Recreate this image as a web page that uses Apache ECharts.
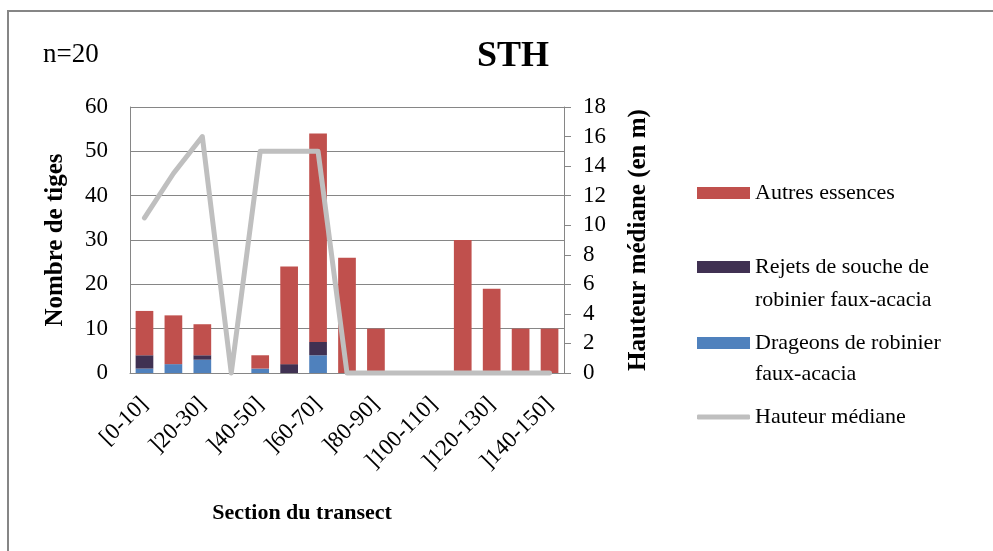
<!DOCTYPE html>
<html>
<head>
<meta charset="utf-8">
<script src="https://cdn.jsdelivr.net/npm/echarts@6/dist/echarts.min.js"></script>
<style>
html,body{margin:0;padding:0;background:#fff;}
#chart{width:993px;height:551px;}
</style>
</head>
<body>
<div id="chart"></div>
<script>
const categories = ['[0-10]', ']10-20]', ']20-30]', ']30-40]', ']40-50]', ']50-60]', ']60-70]', ']70-80]', ']80-90]', ']90-100]', ']100-110]', ']110-120]', ']120-130]', ']130-140]', ']140-150]'];
const drageons = [1, 2, 3, 0, 1, 0, 4, 0, 0, 0, 0, 0, 0, 0, 0];
const rejets   = [3, 0, 1, 0, 0, 2, 3, 0, 0, 0, 0, 0, 0, 0, 0];
const autres   = [10, 11, 7, 0, 3, 22, 47, 26, 10, 0, 0, 30, 19, 10, 10];
const hauteur  = [10.5, 13.5, 16, 0, 15, 15, 15, 0, 0, 0, 0, 0, 0, 0, 0];
const leftTicks = {min: 0, max: 60, interval: 10};
const rightTicks = {min: 0, max: 18, interval: 2};

const FONT = "'Liberation Serif', 'Times New Roman', serif";
const GREY = '#868686';
const chart = echarts.init(document.getElementById('chart'), null, {renderer: 'canvas'});

const legendText = {fontFamily: FONT, fontSize: 22, color: '#000'};

chart.setOption({
  animation: false,
  backgroundColor: '#fff',
  graphic: [{
    type: 'rect', silent: true, z: -1,
    shape: {x: 8, y: 11, width: 1000, height: 560},
    style: {fill: 'none', stroke: GREY, lineWidth: 2}
  }],
  title: [
    {text: 'STH', left: 508, top: 34, textAlign: 'center',
     textStyle: {fontFamily: FONT, fontSize: 36, fontWeight: 'bold', color: '#000'}},
    {text: 'n=20', left: 38, top: 36,
     textStyle: {fontFamily: FONT, fontSize: 27, fontWeight: 'normal', color: '#000'}}
  ],
  legend: [
    {data: ['Autres essences'], left: 697, top: 182, orient: 'vertical', padding: 0,
     icon: 'rect', itemWidth: 53, itemHeight: 12,
     textStyle: Object.assign({lineHeight: 22}, legendText)},
    {data: ['Rejets de souche de robinier faux-acacia'], left: 697, top: 217.5, orient: 'vertical', padding: 0,
     icon: 'rect', itemWidth: 53, itemHeight: 12,
     formatter: function(){ return '\nRejets de souche de\nrobinier faux-acacia'; },
     textStyle: Object.assign({lineHeight: 33}, legendText)},
    {data: ['Drageons de robinier faux-acacia'], left: 697, top: 296.5, orient: 'vertical', padding: 0,
     icon: 'rect', itemWidth: 53, itemHeight: 12,
     formatter: function(){ return '\nDrageons de robinier\nfaux-acacia'; },
     textStyle: Object.assign({lineHeight: 31}, legendText)},
    {data: ['Hauteur médiane'], left: 697, top: 406, orient: 'vertical', padding: 0,
     icon: 'roundRect', itemWidth: 53, itemHeight: 5,
     textStyle: Object.assign({lineHeight: 22}, legendText)}
  ],
  grid: {left: 130, right: 429, top: 107, bottom: 178, containLabel: false},
  xAxis: {
    type: 'category',
    data: categories,
    boundaryGap: true,
    name: 'Section du transect',
    nameLocation: 'middle',
    nameGap: 129,
    nameTextStyle: {fontFamily: FONT, fontSize: 22, fontWeight: 'bold', color: '#000', padding: [0, 90, 0, 0]},
    axisLine: {lineStyle: {color: GREY, width: 1}},
    axisTick: {show: false},
    axisLabel: {interval: 1, rotate: 45, margin: 28, fontFamily: FONT, fontSize: 23, color: '#000'},
    splitLine: {show: false}
  },
  yAxis: [
    {
      type: 'value', position: 'left',
      min: leftTicks.min, max: leftTicks.max, interval: leftTicks.interval,
      name: 'Nombre de tiges', nameLocation: 'middle', nameGap: 62, nameRotate: 90,
      nameTextStyle: {fontFamily: FONT, fontSize: 25, fontWeight: 'bold', color: '#000'},
      axisLine: {show: true, lineStyle: {color: GREY, width: 1}},
      axisTick: {show: false},
      axisLabel: {margin: 22, fontFamily: FONT, fontSize: 23, color: '#000'},
      splitLine: {show: true, lineStyle: {color: GREY, width: 1}}
    },
    {
      type: 'value', position: 'right',
      min: rightTicks.min, max: rightTicks.max, interval: rightTicks.interval,
      name: 'Hauteur médiane (en m)', nameLocation: 'middle', nameGap: 62, nameRotate: 90,
      nameTextStyle: {fontFamily: FONT, fontSize: 25, fontWeight: 'bold', color: '#000'},
      axisLine: {show: true, lineStyle: {color: GREY, width: 1}},
      axisTick: {show: true, inside: false, length: 7, lineStyle: {color: GREY, width: 1}},
      axisLabel: {margin: 19, fontFamily: FONT, fontSize: 23, color: '#000'},
      splitLine: {show: false}
    }
  ],
  series: [
    {name: 'Drageons de robinier faux-acacia', type: 'bar', stack: 'tiges', yAxisIndex: 0,
     data: drageons, barWidth: 17.7, itemStyle: {color: '#4F81BD'}},
    {name: 'Rejets de souche de robinier faux-acacia', type: 'bar', stack: 'tiges', yAxisIndex: 0,
     data: rejets, barWidth: 17.7, itemStyle: {color: '#403152'}},
    {name: 'Autres essences', type: 'bar', stack: 'tiges', yAxisIndex: 0,
     data: autres, barWidth: 17.7, itemStyle: {color: '#C0504D'}},
    {name: 'Hauteur médiane', type: 'line', yAxisIndex: 1, data: hauteur,
     showSymbol: false, symbol: 'none', clip: false, z: 5,
     lineStyle: {color: '#BFBFBF', width: 5, join: 'round', cap: 'round'},
     itemStyle: {color: '#BFBFBF'}}
  ]
});
</script>
</body>
</html>
